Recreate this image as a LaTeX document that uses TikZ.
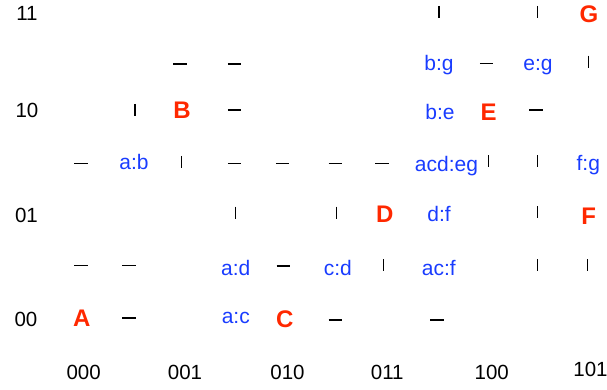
\documentclass[tikz,border=0pt]{standalone}
\usepackage{fontspec}
\setmainfont{Liberation Sans}
\definecolor{pairblue}{RGB}{25,60,255}
\definecolor{cellred}{RGB}{255,40,0}
\begin{document}
\begin{tikzpicture}[x=1pt,y=-1pt,
  every node/.style={inner sep=0pt, anchor=base},
  axislbl/.style={font=\fontsize{20.5}{24}\selectfont, text=black},
  cell/.style={font=\fontsize{24}{28}\selectfont\bfseries, text=cellred},
  pair/.style={font=\fontsize{21}{24}\selectfont, text=pairblue},
  wall/.style={line width=1.15pt, black}]
\useasboundingbox (0,0) rectangle (607,390);
% row labels
\node[axislbl] (r11) at (27,21) {11};
\node[axislbl] (r10) at (27,118) {10};
\node[axislbl] (r01) at (26.5,222) {01};
\node[axislbl] (r00) at (26,326.7) {00};
% column labels
\node[axislbl] (c000) at (83.7,379.3) {000};
\node[axislbl] (c001) at (185,379.3) {001};
\node[axislbl] (c010) at (287.5,379.3) {010};
\node[axislbl] (c011) at (387.3,379) {011};
\node[axislbl] (c100) at (491.7,379) {100};
\node[axislbl] (c101) at (590.5,376.7) {101};
% cells
\node[cell] (G) at (589,23) {G};
\node[cell] (B) at (182,119) {B};
\node[cell] (E) at (488.5,120.7) {E};
\node[cell] (D) at (384.7,222.7) {D};
\node[cell] (F) at (588.8,224) {F};
\node[cell] (A) at (81.7,326.7) {A};
\node[cell] (C) at (284.7,327.3) {C};
% pairs
\node[pair] (bg) at (439,71) {b:g};
\node[pair] (eg) at (538,71) {e:g};
\node[pair] (be) at (440,120) {b:e};
\node[pair] (ab) at (134,169.3) {a:b};
\node[pair] (acdeg) at (446.5,171.7) {acd:eg};
\node[pair] (fg) at (588.3,171) {f:g};
\node[pair] (df) at (439,221.7) {d:f};
\node[pair] (ad) at (235.7,275) {a:d};
\node[pair] (cd) at (337.8,275) {c:d};
\node[pair] (acf) at (438.8,275) {ac:f};
\node[pair] (ac) at (235.8,323.3) {a:c};
% horizontal walls
\foreach \x/\y in {180/64, 234.5/64, 486.7/63.5,
                   234.5/110, 536/110,
                   81/163.5, 234.5/163.5, 282.7/163.5, 335.3/163.5, 382/163.5,
                   81/265.5, 129/265.5, 283.3/266,
                   129/318, 335.3/320, 437/320}
  \draw[wall] (\x-6.75,\y) -- (\x+6.75,\y);
% vertical walls
\foreach \x/\y in {439/12, 537.7/12,
                   588.7/61.7,
                   135/110,
                   181.7/162, 488.7/161.5, 537.7/161.5,
                   235.7/212.5, 336.7/212.5, 537.7/212,
                   383.3/265, 537.7/265, 587.3/265}
  \draw[wall] (\x,\y-6) -- (\x,\y+6);
\end{tikzpicture}
\end{document}
